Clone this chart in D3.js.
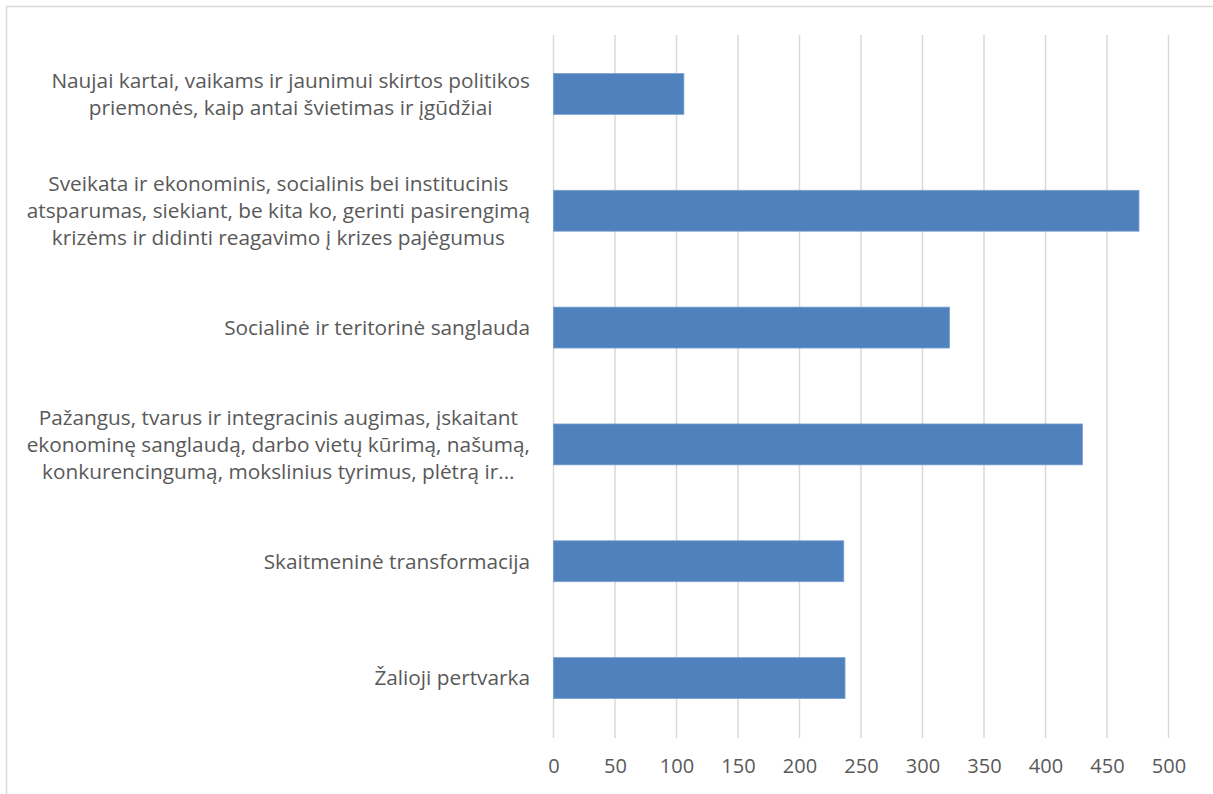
<!DOCTYPE html>
<html><head><meta charset="utf-8">
<script src="https://cdn.jsdelivr.net/npm/d3@7"></script>
<style>
html,body{margin:0;padding:0;background:#fff;}
svg{display:block;}
</style></head>
<body>
<svg id="chart" width="1213" height="794"></svg>
<script>
// Categories top to bottom as displayed (lines separated by \n)
const categories = [
  "Naujai kartai, vaikams ir jaunimui skirtos politikos\npriemonės, kaip antai švietimas ir įgūdžiai",
  "Sveikata ir ekonominis, socialinis bei institucinis\natsparumas, siekiant, be kita ko, gerinti pasirengimą\nkrizėms ir didinti reagavimo į krizes pajėgumus",
  "Socialinė ir teritorinė sanglauda",
  "Pažangus, tvarus ir integracinis augimas, įskaitant\nekonominę sanglaudą, darbo vietų kūrimą, našumą,\nkonkurencingumą, mokslinius tyrimus, plėtrą ir...",
  "Skaitmeninė transformacija",
  "Žalioji pertvarka"
];
const values = [106, 476, 322, 430, 236, 237];
const tickValues = [0, 50, 100, 150, 200, 250, 300, 350, 400, 450, 500];

const svg = d3.select("#chart");
const FONT = "'Open Sans', Lato, sans-serif";
const TEXT = "#595959";

// outer chart border
svg.append("rect").attr("x", 6.5).attr("y", 6.5).attr("width", 1300).attr("height", 900)
  .attr("fill", "none").attr("stroke", "#d9d9d9").attr("stroke-width", 1.5);

const x = d3.scaleLinear().domain([0, 500]).range([553.5, 1168.5]);
const y = d3.scaleBand().domain(categories).range([35.5, 736.5]).paddingInner(0.65).paddingOuter(0.325);

// gridlines
svg.append("g").selectAll("line").data(tickValues).join("line")
  .attr("x1", d => x(d)).attr("x2", d => x(d))
  .attr("y1", 35).attr("y2", 738)
  .attr("stroke", "#d9d9d9").attr("stroke-width", 1.5);

// bars
svg.append("g").selectAll("rect").data(categories).join("rect")
  .attr("x", x(0))
  .attr("y", d => y(d))
  .attr("width", (d, i) => x(values[i]) - x(0))
  .attr("height", y.bandwidth())
  .attr("fill", "#4f81bd")
  .attr("stroke", "#7b9fd1").attr("stroke-width", 0.8);

// x axis tick labels
const xAxis = d3.axisBottom(x).tickValues(tickValues).tickSize(0).tickPadding(0);
const gx = svg.append("g").attr("transform", "translate(0,756)").call(xAxis);
gx.select(".domain").remove();
gx.selectAll("text").attr("font-family", FONT).attr("font-size", 20).attr("fill", TEXT).attr("dy", "0.85em");

// category labels
const lineH = 27;
const labels = svg.append("g").selectAll("text").data(categories).join("text")
  .attr("font-family", FONT).attr("font-size", 20.8).attr("fill", TEXT)
  .attr("text-anchor", "middle");
labels.each(function(d) {
  const t = d3.select(this);
  const lines = d.split("\n");
  const cy = y(d) + y.bandwidth() / 2;
  const y0 = cy - (lines.length - 1) * lineH / 2;
  lines.forEach((ln, k) => {
    t.append("tspan").attr("y", y0 + k * lineH).attr("dy", "0.35em").text(ln);
  });
  let maxW = 0;
  t.selectAll("tspan").each(function() { maxW = Math.max(maxW, this.getComputedTextLength()); });
  t.selectAll("tspan").attr("x", 530 - maxW / 2);
});
</script>
</body></html>
